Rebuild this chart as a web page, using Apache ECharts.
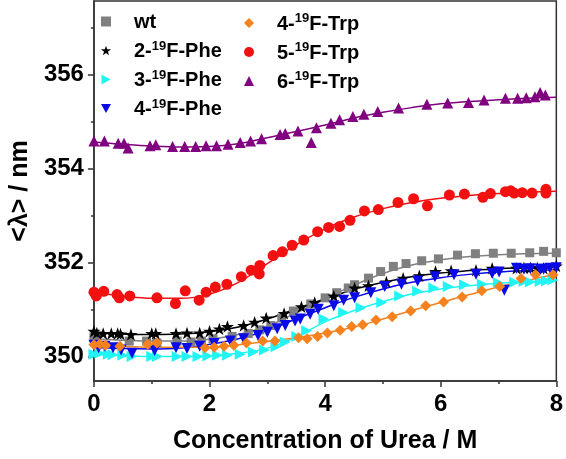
<!DOCTYPE html>
<html>
<head>
<meta charset="utf-8">
<script src="https://cdn.jsdelivr.net/npm/echarts@6/dist/echarts.min.js"></script>
<style>html,body{margin:0;padding:0;background:#fff}#c{width:566px;height:459px}</style>
</head>
<body>
<div id="c"></div>
<script>
// ---------- data ----------
var xTicks = [0, 2, 4, 6, 8];
var yTicks = [350, 352, 354, 356];
var yMinorTicks = [351, 353, 355, 357];

var wtPts = [[0,350.42],[0.05,350.38],[0.61,350.33],[0.91,350.33],[1.09,350.29],[1.44,350.33],[1.68,350.31],[1.86,350.33],[2.06,350.38],[2.39,350.43],[2.67,350.49],[2.87,350.57],[3.06,350.66],[3.25,350.82],[3.45,350.97],[3.75,351.12],[4.0,351.25],[4.2,351.36],[4.40,351.46],[4.51,351.53],[4.75,351.67],[4.96,351.81],[5.18,351.92],[5.40,351.98],[5.67,352.04],[5.96,352.08],[6.29,352.16],[6.60,352.19],[6.91,352.20],[7.22,352.20],[7.54,352.21],[7.78,352.24],[8.0,352.21]];
var phe2Pts = [[0,350.54],[0.05,350.50],[0.16,350.49],[0.30,350.49],[0.41,350.49],[0.46,350.48],[0.64,350.47],[1.0,350.49],[1.07,350.49],[1.42,350.49],[1.61,350.50],[1.83,350.50],[2.0,350.54],[2.17,350.59],[2.31,350.64],[2.59,350.66],[2.78,350.73],[2.98,350.82],[3.29,350.92],[3.59,351.06],[3.82,351.15],[4.15,351.29],[4.51,351.46],[4.75,351.51],[5.06,351.59],[5.35,351.67],[5.63,351.72],[5.91,351.81],[6.18,351.83],[6.61,351.84],[6.89,351.88],[7.31,351.88],[7.44,351.89],[7.55,351.89],[7.67,351.89],[7.78,351.88],[8.0,351.93]];
var phe3Pts = [[0,350.05],[0.1,350.07],[0.25,350.05],[0.33,350.04],[0.5,350.03],[0.66,350.0],[1.0,350.0],[1.1,350.0],[1.44,350.0],[1.61,350.0],[1.8,350.0],[1.97,350.01],[2.14,350.03],[2.31,350.03],[2.53,350.05],[2.76,350.10],[2.95,350.14],[3.15,350.21],[3.31,350.31],[3.51,350.43],[3.68,350.55],[3.98,350.80],[4.32,350.94],[4.62,351.04],[4.98,351.15],[5.29,351.29],[5.60,351.39],[5.88,351.46],[6.13,351.49],[6.41,351.53],[6.72,351.54],[7.0,351.57],[7.28,351.58],[7.44,351.60],[7.55,351.59],[7.72,351.60],[7.83,351.61],[7.94,351.63]];
var phe4Pts = [[0,350.24],[0.08,350.19],[0.19,350.22],[0.33,350.19],[0.47,350.14],[0.66,350.07],[1.05,350.13],[1.42,350.19],[1.61,350.17],[1.83,350.22],[2.08,350.28],[2.36,350.33],[2.59,350.38],[2.84,350.45],[3.0,350.52],[3.17,350.59],[3.31,350.66],[3.48,350.76],[3.57,350.80],[3.74,350.90],[3.88,351.01],[4.15,351.08],[4.32,351.20],[4.51,351.25],[4.79,351.36],[5.03,351.49],[5.32,351.54],[5.60,351.61],[5.90,351.70],[6.23,351.74],[6.61,351.75],[6.89,351.77],[7.01,351.80],[7.10,351.41],[7.31,351.88],[7.44,351.86],[7.55,351.87],[7.72,351.86],[7.78,351.86],[7.89,351.88],[8.0,351.89]];
var trp4Pts = [[0,350.25],[0.1,350.27],[0.2,350.24],[0.45,350.22],[0.93,350.26],[1.09,350.29],[1.92,350.19],[2.08,350.20],[2.25,350.22],[2.42,350.24],[2.64,350.29],[2.92,350.33],[3.13,350.33],[3.54,350.40],[3.69,350.38],[3.87,350.43],[4.04,350.50],[4.26,350.56],[4.46,350.64],[4.65,350.68],[4.88,350.78],[5.16,350.85],[5.48,350.97],[5.74,351.08],[6.05,351.16],[6.37,351.27],[6.71,351.40],[7.02,351.49],[7.39,351.66],[7.64,351.74],[7.94,351.74]];
var trp5Pts = [[0,351.37],[0.04,351.29],[0.17,351.39],[0.40,351.32],[0.44,351.25],[0.62,351.29],[1.09,351.25],[1.41,351.13],[1.58,351.40],[1.82,351.20],[1.94,351.37],[2.10,351.48],[2.30,351.54],[2.55,351.70],[2.72,351.84],[2.86,351.76],[2.87,351.94],[3.10,352.15],[3.26,352.23],[3.43,352.37],[3.63,352.48],[3.87,352.66],[4.06,352.75],[4.25,352.77],[4.43,352.90],[4.68,353.10],[4.92,353.13],[5.26,353.28],[5.53,353.36],[5.77,353.21],[6.15,353.44],[6.41,353.46],[6.73,353.39],[6.86,353.47],[7.12,353.51],[7.21,353.53],[7.27,353.48],[7.41,353.49],[7.58,353.48],[7.82,353.56],[7.82,353.48]];
var trp6Pts = [[0,354.59],[0.18,354.59],[0.42,354.54],[0.52,354.54],[0.59,354.44],[0.97,354.49],[1.07,354.51],[1.36,354.47],[1.57,354.47],[1.76,354.47],[1.94,354.49],[2.12,354.49],[2.32,354.52],[2.53,354.56],[2.71,354.59],[2.90,354.64],[3.22,354.73],[3.31,354.75],[3.53,354.80],[3.76,354.56],[3.85,354.87],[4.10,354.97],[4.25,355.04],[4.48,355.11],[4.67,355.16],[4.91,355.22],[5.27,355.29],[5.76,355.37],[6.12,355.40],[6.48,355.41],[6.75,355.46],[7.12,355.50],[7.33,355.50],[7.48,355.51],[7.63,355.53],[7.72,355.62],[7.81,355.57]];

// fitted curves, read at these urea concentrations
var fitX = [0,0.5,1,1.5,2,2.5,3,3.5,4,4.5,5,5.5,6,6.5,7,7.5,8];
var wtFit   = [350.38,350.35,350.33,350.33,350.37,350.47,350.65,350.93,351.23,351.52,351.77,351.95,352.06,352.13,352.17,352.19,352.20];
var phe2Fit = [350.50,350.48,350.47,350.48,350.53,350.63,350.80,351.02,351.23,351.43,351.58,351.70,351.78,351.83,351.87,351.89,351.91];
var phe3Fit = [350.04,350.02,350.00,350.00,350.02,350.07,350.18,350.42,350.74,350.98,351.17,351.33,351.44,351.51,351.56,351.59,351.62];
var phe4Fit = [350.20,350.17,350.16,350.18,350.26,350.38,350.56,350.80,351.04,351.26,351.44,351.58,351.68,351.75,351.80,351.83,351.85];
var trp4Fit = [350.26,350.22,350.20,350.20,350.20,350.25,350.32,350.40,350.50,350.63,350.80,350.98,351.15,351.32,351.48,351.62,351.76];
var trp5Fit = [351.37,351.29,351.24,351.24,351.33,351.58,351.98,352.38,352.72,352.97,353.15,353.28,353.37,353.43,353.47,353.50,353.52];
var trp6Fit = [354.57,354.52,354.48,354.46,354.47,354.53,354.66,354.79,354.93,355.08,355.20,355.30,355.38,355.43,355.47,355.50,355.52];

var names = ['wt','2-19F-Phe','3-19F-Phe','4-19F-Phe','4-19F-Trp','5-19F-Trp','6-19F-Trp'];
// ---------------------------------------------------

var FONT = '"Liberation Sans", Arial, sans-serif';
var STAR = 'path://M50,0 L61.8,35.5 L98.5,35.5 L68.8,57.5 L80.2,93 L50,71 L19.8,93 L31.2,57.5 L1.5,35.5 L38.2,35.5 Z';
var TRI_RIGHT = 'path://M0,0 L9,5 L0,10 Z';
var TRI_DOWN = 'path://M0,0 L10,0 L5,9 Z';

var styles = [
  {color:'#808080', symbol:'rect', size:9, rot:0, icon:'rect'},
  {color:'#000000', symbol:STAR, size:13, rot:0, icon:STAR},
  {color:'#22f4f4', symbol:'triangle', size:11, rot:-90, icon:TRI_RIGHT},
  {color:'#0a0ae6', symbol:'triangle', size:11, rot:180, icon:TRI_DOWN},
  {color:'#f5821f', symbol:'diamond', size:11, rot:0, icon:'diamond'},
  {color:'#f21010', symbol:'circle', size:11, rot:0, icon:'circle'},
  {color:'#800080', symbol:'triangle', size:11, rot:0, icon:'triangle'}
];
var pts = [wtPts, phe2Pts, phe3Pts, phe4Pts, trp4Pts, trp5Pts, trp6Pts];
var fits = [wtFit, phe2Fit, phe3Fit, phe4Fit, trp4Fit, trp5Fit, trp6Fit];

function pair(xs, ys){ return xs.map(function(x,i){ return [x, ys[i]]; }); }

var series = [];
fits.forEach(function(f, i){
  series.push({
    name: names[i] + ' fit', type:'line', smooth:0.4, showSymbol:false, silent:true,
    data: pair(fitX, f), z:1,
    lineStyle:{color:styles[i].color, width:1.5}
  });
});
pts.forEach(function(p, i){
  var s = styles[i];
  series.push({
    name: names[i], type:'scatter', data:p, z:3,
    symbol:s.symbol, symbolSize:s.size, symbolRotate:s.rot, symbolKeepAspect:true,
    itemStyle:{color:s.color, opacity:1}
  });
});

function fmt(n){
  var m = n.match(/^(\d-)19(F-.*)$/);
  return m ? '{g| }{a|' + m[1] + '}{s|19}{a|' + m[2] + '}' : '{g| }{a|' + n + '}';
}
var legendText = {
  fontFamily: FONT, fontWeight:'bold', color:'#000',
  rich:{
    g:{width:18, fontSize:19, lineHeight:22},
    a:{fontFamily:FONT, fontWeight:'bold', fontSize:20, color:'#000', lineHeight:22, verticalAlign:'bottom'},
    s:{fontFamily:FONT, fontWeight:'bold', fontSize:13, color:'#000', lineHeight:22, verticalAlign:'top', padding:[0,0,6,0]}
  }
};
function legendData(from, to){
  var out = [];
  for (var i = from; i < to; i++) out.push({name:names[i], icon:styles[i].icon, itemStyle:{color:styles[i].color, opacity:1}});
  return out;
}

var chart = echarts.init(document.getElementById('c'), null, {renderer:'canvas'});
chart.setOption({
  animation:false,
  backgroundColor:'#fff',
  grid:{left:82, right:6, top:1, bottom:71, show:true, borderColor:'#333', borderWidth:1.5, backgroundColor:'transparent'},
  legend:[
    {data:legendData(0,4), orient:'vertical', left:96, top:7, itemWidth:10, itemHeight:10, itemGap:7,
     formatter:fmt, textStyle:legendText, selectedMode:false},
    {data:legendData(4,7), orient:'vertical', left:239, top:7, itemWidth:10, itemHeight:10, itemGap:7,
     formatter:fmt, textStyle:legendText, selectedMode:false}
  ],
  xAxis:{
    type:'value', min:0, max:8, interval:2,
    name:'Concentration of Urea / M', nameLocation:'middle', nameGap:48,
    nameTextStyle:{fontFamily:FONT, fontWeight:'bold', fontSize:25, color:'#000'},
    axisLine:{show:true, lineStyle:{color:'#333', width:1.5}},
    axisTick:{show:true, inside:false, length:6, lineStyle:{color:'#333', width:1.5}},
    minorTick:{show:true, splitNumber:2, length:3, lineStyle:{color:'#333', width:1.5}},
    axisLabel:{fontFamily:FONT, fontWeight:'bold', fontSize:24, color:'#000', margin:11,
      customValues: xTicks},
    splitLine:{show:false}
  },
  yAxis:[{
    type:'value', min:349.48, max:357.57,
    name:'<λ> / nm', nameLocation:'middle', nameGap:58,
    nameTextStyle:{fontFamily:FONT, fontWeight:'bold', fontSize:25, color:'#000'},
    axisLine:{show:true, lineStyle:{color:'#333', width:1.5}},
    axisTick:{show:true, inside:false, length:6, customValues:yTicks, lineStyle:{color:'#333', width:1.5}},
    axisLabel:{fontFamily:FONT, fontWeight:'bold', fontSize:24, color:'#000', margin:10, customValues:yTicks},
    splitLine:{show:false}
  },{
    type:'value', min:349.48, max:357.57, position:'left',
    axisLine:{show:false},
    axisTick:{show:true, inside:false, length:3, customValues:yMinorTicks, lineStyle:{color:'#333', width:1.5}},
    axisLabel:{show:false},
    splitLine:{show:false}
  }],
  series: series
});
</script>
</body>
</html>
